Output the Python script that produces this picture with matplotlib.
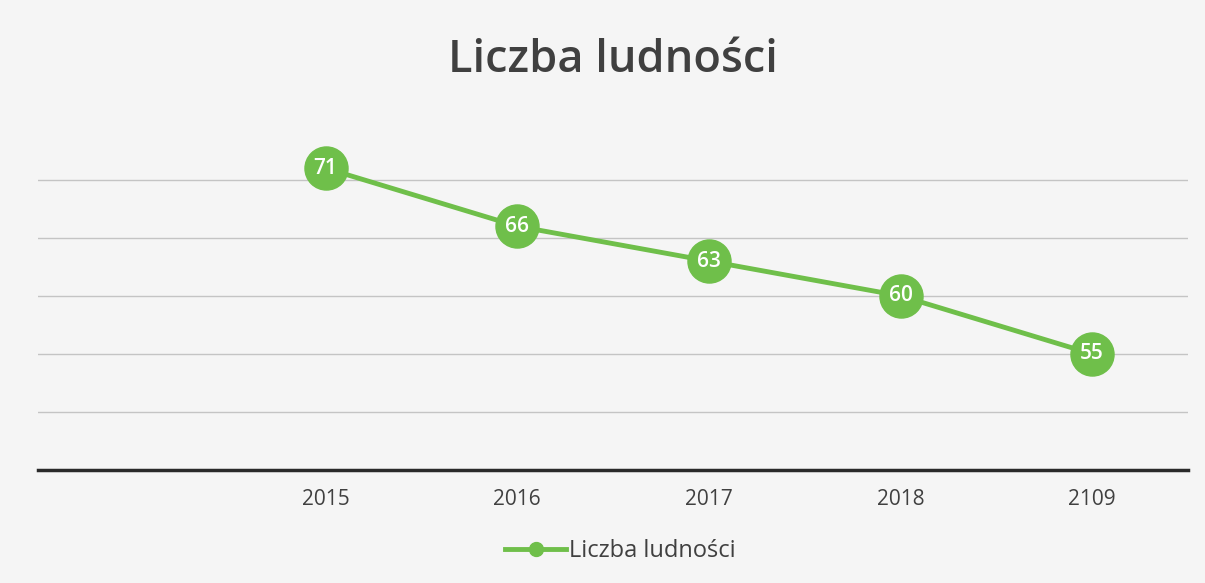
import matplotlib
matplotlib.use("Agg")
import matplotlib.pyplot as plt

years = ["2015", "2016", "2017", "2018", "2109"]
values = [71, 66, 63, 60, 55]
series_name = "Liczba ludności"
title = "Liczba ludności"

plt.rcParams['font.family'] = ['Open Sans', 'DejaVu Sans']

bg = '#f5f5f5'
fig = plt.figure(figsize=(12.05, 5.83), dpi=100)
fig.patch.set_facecolor(bg)
ax = fig.add_axes([38/1205, 1-470/583, 1150/1205, (470-121.75)/583])
ax.set_facecolor(bg)

green = '#6fbf4a'
xs = list(range(1, len(years) + 1))
line, = ax.plot(xs, values, color=green, lw=3.5, marker='o', markersize=31,
                markerfacecolor=green, markeredgecolor=green, zorder=3,
                label=series_name)
for x, v in zip(xs, values):
    ax.text(x, v, str(v), ha='center', va='center', color='white',
            fontsize=15, fontweight='semibold', zorder=4)

ax.set_xlim(-0.5, 5.5)
ax.set_ylim(45, 75)
ax.set_yticks([50, 55, 60, 65, 70])
ax.yaxis.grid(True, color='#c4c4c4', lw=1)
ax.set_axisbelow(True)
ax.set_xticks(xs)
ax.set_xticklabels(years, fontsize=15, color='#404040')
ax.tick_params(axis='x', length=0, pad=14)
ax.tick_params(axis='y', length=0, labelleft=False)
for s in ['top', 'right', 'left']:
    ax.spines[s].set_visible(False)
ax.spines['bottom'].set_color('#2a2a2a')
ax.spines['bottom'].set_linewidth(2.5)

fig.text(613/1205, 1-60/583, title, ha='center', va='center',
         fontsize=32.5, fontweight='semibold', color='#404040')

leg_line = plt.Line2D([], [], color=green, lw=3.5, marker='o', markersize=10,
                      markerfacecolor=green, markeredgecolor=green)
fig.legend([leg_line], [series_name], loc='center', bbox_to_anchor=(620/1205, 1-551/583),
           frameon=False, fontsize=17, handlelength=2.6, handletextpad=0.1,
           labelcolor='#404040')

fig.savefig('out.png', dpi=100, facecolor=fig.get_facecolor())
